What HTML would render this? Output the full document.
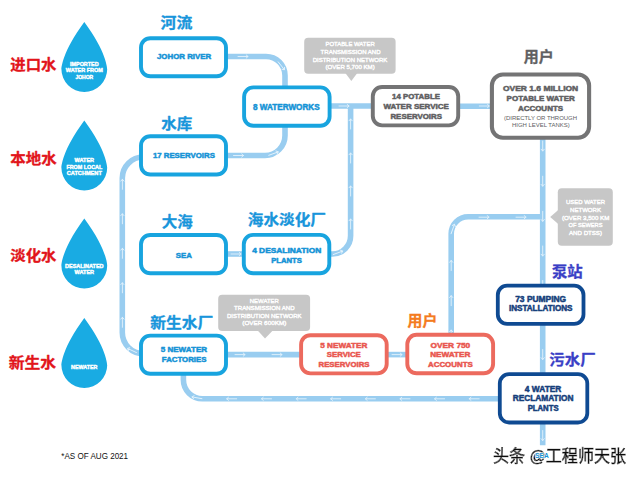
<!DOCTYPE html>
<html lang="zh"><head><meta charset="utf-8"><title>Water loop</title>
<style>
html,body{margin:0;padding:0;background:#fff;}
body{width:640px;height:478px;overflow:hidden;}
svg{display:block;}
text{font-family:"Liberation Sans","Noto Sans CJK SC",sans-serif;}
.b{font-weight:bold;}
.cn{font-family:"Liberation Sans","Noto Sans CJK SC",sans-serif;font-weight:bold;}
.pipe{fill:none;stroke:#99cdf0;stroke-width:5.6;}
.ar{fill:none;stroke:#e3f2fc;stroke-width:0.9;stroke-linecap:round;stroke-linejoin:round;}
</style></head><body>
<svg width="640" height="478" viewBox="0 0 640 478">
<rect width="640" height="478" fill="#fff"/>
<path class="pipe" d="M226 56.5 H266 A19 19 0 0 1 285 75.5 V88"/>
<path class="pipe" d="M226 155.5 H265 A20 20 0 0 0 285 135.5 V125"/>
<path class="pipe" d="M328 106 H373"/>
<path class="pipe" d="M329 254 H332.4 A18.2 18.2 0 0 0 350.6 235.8 V106"/>
<path class="pipe" d="M458 106.2 H492"/>
<path class="pipe" d="M542.7 138 V445.3"/>
<path class="pipe" d="M451.2 336 V233.8 A17 17 0 0 1 468.2 216.8 H542.7"/>
<path class="pipe" d="M226 354.6 H301"/>
<path class="pipe" d="M226 254 H244"/>
<path class="pipe" d="M385 354.6 H408"/>
<path class="pipe" d="M500 398.8 H202.4 A19 19 0 0 1 183.4 379.8 V373"/>
<path class="pipe" d="M143.3 353.6 A21 21 0 0 1 122.3 332.6 V178 A21 21 0 0 1 143.3 157"/>
<g transform="translate(243.0 56.5) rotate(0)"><path class="ar" d="M-5.0 0 H5.0 M3.2 -1.6 L5.0 0 L3.2 1.6"/></g>
<g transform="translate(281.3 65.8) rotate(52)"><path class="ar" d="M-5.0 0 H5.0 M3.2 -1.6 L5.0 0 L3.2 1.6"/></g>
<g transform="translate(238.5 155.5) rotate(0)"><path class="ar" d="M-5.0 0 H5.0 M3.2 -1.6 L5.0 0 L3.2 1.6"/></g>
<g transform="translate(273.5 153.6) rotate(-20)"><path class="ar" d="M-5.0 0 H5.0 M3.2 -1.6 L5.0 0 L3.2 1.6"/></g>
<g transform="translate(344.0 106.0) rotate(0)"><path class="ar" d="M-5.0 0 H5.0 M3.2 -1.6 L5.0 0 L3.2 1.6"/></g>
<g transform="translate(350.6 124.0) rotate(-90)"><path class="ar" d="M-5.0 0 H5.0 M3.2 -1.6 L5.0 0 L3.2 1.6"/></g>
<g transform="translate(350.6 158.0) rotate(-90)"><path class="ar" d="M-5.0 0 H5.0 M3.2 -1.6 L5.0 0 L3.2 1.6"/></g>
<g transform="translate(350.6 191.0) rotate(-90)"><path class="ar" d="M-5.0 0 H5.0 M3.2 -1.6 L5.0 0 L3.2 1.6"/></g>
<g transform="translate(350.6 224.0) rotate(-90)"><path class="ar" d="M-5.0 0 H5.0 M3.2 -1.6 L5.0 0 L3.2 1.6"/></g>
<g transform="translate(338.0 252.8) rotate(-20)"><path class="ar" d="M-5.0 0 H5.0 M3.2 -1.6 L5.0 0 L3.2 1.6"/></g>
<g transform="translate(484.3 106.0) rotate(0)"><path class="ar" d="M-5.0 0 H5.0 M3.2 -1.6 L5.0 0 L3.2 1.6"/></g>
<g transform="translate(542.7 146.0) rotate(90)"><path class="ar" d="M-5.0 0 H5.0 M3.2 -1.6 L5.0 0 L3.2 1.6"/></g>
<g transform="translate(542.7 181.2) rotate(90)"><path class="ar" d="M-5.0 0 H5.0 M3.2 -1.6 L5.0 0 L3.2 1.6"/></g>
<g transform="translate(542.7 216.3) rotate(90)"><path class="ar" d="M-5.0 0 H5.0 M3.2 -1.6 L5.0 0 L3.2 1.6"/></g>
<g transform="translate(542.7 251.0) rotate(90)"><path class="ar" d="M-5.0 0 H5.0 M3.2 -1.6 L5.0 0 L3.2 1.6"/></g>
<g transform="translate(542.7 285.5) rotate(90)"><path class="ar" d="M-5.0 0 H5.0 M3.2 -1.6 L5.0 0 L3.2 1.6"/></g>
<g transform="translate(542.7 354.5) rotate(90)"><path class="ar" d="M-5.0 0 H5.0 M3.2 -1.6 L5.0 0 L3.2 1.6"/></g>
<g transform="translate(542.7 435.5) rotate(90)"><path class="ar" d="M-5.0 0 H5.0 M3.2 -1.6 L5.0 0 L3.2 1.6"/></g>
<g transform="translate(451.2 335.0) rotate(-90)"><path class="ar" d="M-5.0 0 H5.0 M3.2 -1.6 L5.0 0 L3.2 1.6"/></g>
<g transform="translate(451.2 300.7) rotate(-90)"><path class="ar" d="M-5.0 0 H5.0 M3.2 -1.6 L5.0 0 L3.2 1.6"/></g>
<g transform="translate(451.2 265.5) rotate(-90)"><path class="ar" d="M-5.0 0 H5.0 M3.2 -1.6 L5.0 0 L3.2 1.6"/></g>
<g transform="translate(452.8 229.0) rotate(-70)"><path class="ar" d="M-5.0 0 H5.0 M3.2 -1.6 L5.0 0 L3.2 1.6"/></g>
<g transform="translate(484.0 217.2) rotate(0)"><path class="ar" d="M-5.0 0 H5.0 M3.2 -1.6 L5.0 0 L3.2 1.6"/></g>
<g transform="translate(521.0 217.2) rotate(0)"><path class="ar" d="M-5.0 0 H5.0 M3.2 -1.6 L5.0 0 L3.2 1.6"/></g>
<g transform="translate(240.0 354.6) rotate(0)"><path class="ar" d="M-5.0 0 H5.0 M3.2 -1.6 L5.0 0 L3.2 1.6"/></g>
<g transform="translate(277.0 354.6) rotate(0)"><path class="ar" d="M-5.0 0 H5.0 M3.2 -1.6 L5.0 0 L3.2 1.6"/></g>
<g transform="translate(397.0 354.6) rotate(0)"><path class="ar" d="M-5.0 0 H5.0 M3.2 -1.6 L5.0 0 L3.2 1.6"/></g>
<g transform="translate(236.0 254.0) rotate(0)"><path class="ar" d="M-5.0 0 H5.0 M3.2 -1.6 L5.0 0 L3.2 1.6"/></g>
<g transform="translate(197.0 397.8) rotate(190)"><path class="ar" d="M-5.0 0 H5.0 M3.2 -1.6 L5.0 0 L3.2 1.6"/></g>
<g transform="translate(231.7 398.8) rotate(180)"><path class="ar" d="M-5.0 0 H5.0 M3.2 -1.6 L5.0 0 L3.2 1.6"/></g>
<g transform="translate(266.5 398.8) rotate(180)"><path class="ar" d="M-5.0 0 H5.0 M3.2 -1.6 L5.0 0 L3.2 1.6"/></g>
<g transform="translate(301.2 398.8) rotate(180)"><path class="ar" d="M-5.0 0 H5.0 M3.2 -1.6 L5.0 0 L3.2 1.6"/></g>
<g transform="translate(335.7 398.8) rotate(180)"><path class="ar" d="M-5.0 0 H5.0 M3.2 -1.6 L5.0 0 L3.2 1.6"/></g>
<g transform="translate(370.4 398.8) rotate(180)"><path class="ar" d="M-5.0 0 H5.0 M3.2 -1.6 L5.0 0 L3.2 1.6"/></g>
<g transform="translate(405.0 398.8) rotate(180)"><path class="ar" d="M-5.0 0 H5.0 M3.2 -1.6 L5.0 0 L3.2 1.6"/></g>
<g transform="translate(439.6 398.8) rotate(180)"><path class="ar" d="M-5.0 0 H5.0 M3.2 -1.6 L5.0 0 L3.2 1.6"/></g>
<g transform="translate(474.2 398.8) rotate(180)"><path class="ar" d="M-5.0 0 H5.0 M3.2 -1.6 L5.0 0 L3.2 1.6"/></g>
<g transform="translate(132.0 350.5) rotate(205)"><path class="ar" d="M-5.0 0 H5.0 M3.2 -1.6 L5.0 0 L3.2 1.6"/></g>
<g transform="translate(122.4 322.3) rotate(-90)"><path class="ar" d="M-5.0 0 H5.0 M3.2 -1.6 L5.0 0 L3.2 1.6"/></g>
<g transform="translate(122.4 287.8) rotate(-90)"><path class="ar" d="M-5.0 0 H5.0 M3.2 -1.6 L5.0 0 L3.2 1.6"/></g>
<g transform="translate(122.4 253.3) rotate(-90)"><path class="ar" d="M-5.0 0 H5.0 M3.2 -1.6 L5.0 0 L3.2 1.6"/></g>
<g transform="translate(122.4 218.8) rotate(-90)"><path class="ar" d="M-5.0 0 H5.0 M3.2 -1.6 L5.0 0 L3.2 1.6"/></g>
<g transform="translate(122.4 184.3) rotate(-90)"><path class="ar" d="M-5.0 0 H5.0 M3.2 -1.6 L5.0 0 L3.2 1.6"/></g>
<path fill="#19abe3" d="M84.3 21.9 C106.3 51.4 107.2 67.9 107.2 69.0 A22.9 22.9 0 1 1 61.4 69.0 C61.4 67.9 62.3 51.4 84.3 21.9 Z"/>
<path fill="#19abe3" d="M84.3 120.4 C106.3 149.9 107.2 166.4 107.2 167.5 A22.9 22.9 0 1 1 61.4 167.5 C61.4 166.4 62.3 149.9 84.3 120.4 Z"/>
<path fill="#19abe3" d="M84.3 218.4 C106.3 247.9 107.2 264.4 107.2 265.5 A22.9 22.9 0 1 1 61.4 265.5 C61.4 264.4 62.3 247.9 84.3 218.4 Z"/>
<path fill="#19abe3" d="M84.3 317.9 C106.3 347.4 107.2 363.9 107.2 365.0 A22.9 22.9 0 1 1 61.4 365.0 C61.4 363.9 62.3 347.4 84.3 317.9 Z"/>
<text x="84.3" y="65.8" font-size="5.20" fill="#fff" class="b" text-anchor="middle" textLength="28.5" lengthAdjust="spacingAndGlyphs" stroke="#fff" stroke-width="0.4" stroke-linejoin="round">IMPORTED</text>
<text x="84.3" y="72.3" font-size="5.20" fill="#fff" class="b" text-anchor="middle" textLength="37.0" lengthAdjust="spacingAndGlyphs" stroke="#fff" stroke-width="0.4" stroke-linejoin="round">WATER FROM</text>
<text x="84.3" y="78.6" font-size="5.20" fill="#fff" class="b" text-anchor="middle" textLength="17.8" lengthAdjust="spacingAndGlyphs" stroke="#fff" stroke-width="0.4" stroke-linejoin="round">JOHOR</text>
<text x="84.3" y="162.1" font-size="5.20" fill="#fff" class="b" text-anchor="middle" textLength="19.5" lengthAdjust="spacingAndGlyphs" stroke="#fff" stroke-width="0.4" stroke-linejoin="round">WATER</text>
<text x="84.3" y="168.8" font-size="5.20" fill="#fff" class="b" text-anchor="middle" textLength="35.8" lengthAdjust="spacingAndGlyphs" stroke="#fff" stroke-width="0.4" stroke-linejoin="round">FROM LOCAL</text>
<text x="84.3" y="175.2" font-size="5.20" fill="#fff" class="b" text-anchor="middle" textLength="35.0" lengthAdjust="spacingAndGlyphs" stroke="#fff" stroke-width="0.4" stroke-linejoin="round">CATCHMENT</text>
<text x="84.3" y="267.8" font-size="5.20" fill="#fff" class="b" text-anchor="middle" textLength="38.5" lengthAdjust="spacingAndGlyphs" stroke="#fff" stroke-width="0.4" stroke-linejoin="round">DESALINATED</text>
<text x="84.3" y="274.3" font-size="5.20" fill="#fff" class="b" text-anchor="middle" textLength="19.5" lengthAdjust="spacingAndGlyphs" stroke="#fff" stroke-width="0.4" stroke-linejoin="round">WATER</text>
<text x="84.3" y="369.1" font-size="5.20" fill="#fff" class="b" text-anchor="middle" textLength="26.4" lengthAdjust="spacingAndGlyphs" stroke="#fff" stroke-width="0.4" stroke-linejoin="round">NEWATER</text>
<text x="10.3" y="70.2" font-size="14.40" fill="#e2151b" class="cn" text-anchor="start" textLength="46.2" lengthAdjust="spacingAndGlyphs" stroke="#e2151b" stroke-width="0.3" stroke-linejoin="round">进口水</text>
<text x="10.3" y="163.6" font-size="14.40" fill="#e2151b" class="cn" text-anchor="start" textLength="46.4" lengthAdjust="spacingAndGlyphs" stroke="#e2151b" stroke-width="0.3" stroke-linejoin="round">本地水</text>
<text x="10.3" y="260.5" font-size="14.40" fill="#e2151b" class="cn" text-anchor="start" textLength="46.2" lengthAdjust="spacingAndGlyphs" stroke="#e2151b" stroke-width="0.3" stroke-linejoin="round">淡化水</text>
<text x="8.7" y="367.5" font-size="14.40" fill="#e2151b" class="cn" text-anchor="start" textLength="47.4" lengthAdjust="spacingAndGlyphs" stroke="#e2151b" stroke-width="0.3" stroke-linejoin="round">新生水</text>
<rect x="141.0" y="38.2" width="85.0" height="38.1" rx="9.3" fill="#fff" stroke="#18a4df" stroke-width="3.9"/>
<rect x="141.0" y="136.2" width="85.0" height="38.3" rx="9.3" fill="#fff" stroke="#18a4df" stroke-width="3.9"/>
<rect x="141.0" y="235.0" width="85.0" height="38.3" rx="9.3" fill="#fff" stroke="#18a4df" stroke-width="3.9"/>
<rect x="243.8" y="234.9" width="85.5" height="38.4" rx="9.3" fill="#fff" stroke="#18a4df" stroke-width="3.9"/>
<rect x="244.1" y="87.4" width="85.5" height="38.4" rx="9.3" fill="#fff" stroke="#18a4df" stroke-width="3.9"/>
<rect x="372.8" y="87.0" width="85.4" height="38.4" rx="9.3" fill="#fff" stroke="#747475" stroke-width="3.9"/>
<rect x="491.9" y="74.5" width="97.2" height="63.2" rx="11.0" fill="#fff" stroke="#747475" stroke-width="4.1"/>
<rect x="141.0" y="335.6" width="85.0" height="38.2" rx="9.3" fill="#fff" stroke="#18a4df" stroke-width="3.9"/>
<rect x="301.1" y="335.2" width="85.6" height="38.2" rx="9.3" fill="#fff" stroke="#ec6a5e" stroke-width="3.9"/>
<rect x="407.3" y="334.8" width="85.8" height="38.5" rx="9.3" fill="#fff" stroke="#ec6a5e" stroke-width="3.9"/>
<rect x="497.8" y="285.6" width="85.7" height="38.3" rx="9.3" fill="#fff" stroke="#0f4a92" stroke-width="3.8"/>
<rect x="499.8" y="374.1" width="87.5" height="48.4" rx="9.3" fill="#fff" stroke="#0f4a92" stroke-width="3.8"/>
<text x="184.1" y="59.2" font-size="7.68" fill="#1593d6" class="b" text-anchor="middle" textLength="54.2" lengthAdjust="spacingAndGlyphs" stroke="#1593d6" stroke-width="0.50" stroke-linejoin="round">JOHOR RIVER</text>
<text x="286.3" y="109.9" font-size="8.64" fill="#1593d6" class="b" text-anchor="middle" textLength="66.7" lengthAdjust="spacingAndGlyphs" stroke="#1593d6" stroke-width="0.50" stroke-linejoin="round">8 WATERWORKS</text>
<text x="183.9" y="158.3" font-size="7.96" fill="#1593d6" class="b" text-anchor="middle" textLength="62.0" lengthAdjust="spacingAndGlyphs" stroke="#1593d6" stroke-width="0.50" stroke-linejoin="round">17 RESERVOIRS</text>
<text x="183.8" y="257.9" font-size="7.96" fill="#1593d6" class="b" text-anchor="middle" textLength="16.2" lengthAdjust="spacingAndGlyphs" stroke="#1593d6" stroke-width="0.50" stroke-linejoin="round">SEA</text>
<text x="286.7" y="253.2" font-size="7.54" fill="#1593d6" class="b" text-anchor="middle" textLength="69.1" lengthAdjust="spacingAndGlyphs" stroke="#1593d6" stroke-width="0.50" stroke-linejoin="round">4 DESALINATION</text>
<text x="286.5" y="262.6" font-size="7.54" fill="#1593d6" class="b" text-anchor="middle" textLength="30.7" lengthAdjust="spacingAndGlyphs" stroke="#1593d6" stroke-width="0.50" stroke-linejoin="round">PLANTS</text>
<text x="416.0" y="99.4" font-size="7.68" fill="#606062" class="b" text-anchor="middle" textLength="48.0" lengthAdjust="spacingAndGlyphs" stroke="#606062" stroke-width="0.50" stroke-linejoin="round">14 POTABLE</text>
<text x="416.2" y="108.7" font-size="7.68" fill="#606062" class="b" text-anchor="middle" textLength="65.5" lengthAdjust="spacingAndGlyphs" stroke="#606062" stroke-width="0.50" stroke-linejoin="round">WATER SERVICE</text>
<text x="416.2" y="118.5" font-size="7.68" fill="#606062" class="b" text-anchor="middle" textLength="51.5" lengthAdjust="spacingAndGlyphs" stroke="#606062" stroke-width="0.50" stroke-linejoin="round">RESERVOIRS</text>
<text x="540.6" y="91.2" font-size="7.68" fill="#606062" class="b" text-anchor="middle" textLength="75.3" lengthAdjust="spacingAndGlyphs" stroke="#606062" stroke-width="0.50" stroke-linejoin="round">OVER 1.6 MILLION</text>
<text x="540.7" y="100.8" font-size="7.68" fill="#606062" class="b" text-anchor="middle" textLength="68.2" lengthAdjust="spacingAndGlyphs" stroke="#606062" stroke-width="0.50" stroke-linejoin="round">POTABLE WATER</text>
<text x="540.5" y="110.5" font-size="7.68" fill="#606062" class="b" text-anchor="middle" textLength="45.2" lengthAdjust="spacingAndGlyphs" stroke="#606062" stroke-width="0.50" stroke-linejoin="round">ACCOUNTS</text>
<text x="540.5" y="120.0" font-size="5.76" fill="#606062" class="" text-anchor="middle" textLength="73.0" lengthAdjust="spacingAndGlyphs">(DIRECTLY OR THROUGH</text>
<text x="540.8" y="127.4" font-size="5.76" fill="#606062" class="" text-anchor="middle" textLength="57.7" lengthAdjust="spacingAndGlyphs">HIGH LEVEL TANKS)</text>
<text x="183.9" y="352.3" font-size="7.68" fill="#1593d6" class="b" text-anchor="middle" textLength="46.3" lengthAdjust="spacingAndGlyphs" stroke="#1593d6" stroke-width="0.50" stroke-linejoin="round">5 NEWATER</text>
<text x="184.1" y="361.9" font-size="7.68" fill="#1593d6" class="b" text-anchor="middle" textLength="44.6" lengthAdjust="spacingAndGlyphs" stroke="#1593d6" stroke-width="0.50" stroke-linejoin="round">FACTORIES</text>
<text x="343.8" y="347.9" font-size="7.68" fill="#e9574f" class="b" text-anchor="middle" textLength="47.0" lengthAdjust="spacingAndGlyphs" stroke="#e9574f" stroke-width="0.50" stroke-linejoin="round">5 NEWATER</text>
<text x="343.8" y="357.4" font-size="7.68" fill="#e9574f" class="b" text-anchor="middle" textLength="34.0" lengthAdjust="spacingAndGlyphs" stroke="#e9574f" stroke-width="0.50" stroke-linejoin="round">SERVICE</text>
<text x="344.0" y="366.8" font-size="7.68" fill="#e9574f" class="b" text-anchor="middle" textLength="51.0" lengthAdjust="spacingAndGlyphs" stroke="#e9574f" stroke-width="0.50" stroke-linejoin="round">RESERVOIRS</text>
<text x="450.4" y="347.5" font-size="7.68" fill="#e9574f" class="b" text-anchor="middle" textLength="39.7" lengthAdjust="spacingAndGlyphs" stroke="#e9574f" stroke-width="0.50" stroke-linejoin="round">OVER 750</text>
<text x="450.3" y="357.0" font-size="7.68" fill="#e9574f" class="b" text-anchor="middle" textLength="40.2" lengthAdjust="spacingAndGlyphs" stroke="#e9574f" stroke-width="0.50" stroke-linejoin="round">NEWATER</text>
<text x="450.4" y="366.5" font-size="7.68" fill="#e9574f" class="b" text-anchor="middle" textLength="44.9" lengthAdjust="spacingAndGlyphs" stroke="#e9574f" stroke-width="0.50" stroke-linejoin="round">ACCOUNTS</text>
<text x="540.7" y="302.2" font-size="8.23" fill="#163f7c" class="b" text-anchor="middle" textLength="51.0" lengthAdjust="spacingAndGlyphs" stroke="#163f7c" stroke-width="0.50" stroke-linejoin="round">73 PUMPING</text>
<text x="540.7" y="311.2" font-size="8.23" fill="#163f7c" class="b" text-anchor="middle" textLength="63.6" lengthAdjust="spacingAndGlyphs" stroke="#163f7c" stroke-width="0.50" stroke-linejoin="round">INSTALLATIONS</text>
<text x="543.1" y="391.5" font-size="8.23" fill="#163f7c" class="b" text-anchor="middle" textLength="36.5" lengthAdjust="spacingAndGlyphs" stroke="#163f7c" stroke-width="0.50" stroke-linejoin="round">4 WATER</text>
<text x="543.1" y="401.1" font-size="8.23" fill="#163f7c" class="b" text-anchor="middle" textLength="60.8" lengthAdjust="spacingAndGlyphs" stroke="#163f7c" stroke-width="0.50" stroke-linejoin="round">RECLAMATION</text>
<text x="543.1" y="410.5" font-size="8.23" fill="#163f7c" class="b" text-anchor="middle" textLength="30.9" lengthAdjust="spacingAndGlyphs" stroke="#163f7c" stroke-width="0.50" stroke-linejoin="round">PLANTS</text>
<text x="160.5" y="28.2" font-size="14.40" fill="#1895db" class="cn" text-anchor="start" textLength="31.8" lengthAdjust="spacingAndGlyphs" stroke="#1895db" stroke-width="0.3" stroke-linejoin="round">河流</text>
<text x="161.2" y="129.3" font-size="14.40" fill="#1895db" class="cn" text-anchor="start" textLength="31.0" lengthAdjust="spacingAndGlyphs" stroke="#1895db" stroke-width="0.3" stroke-linejoin="round">水库</text>
<text x="161.8" y="227.0" font-size="14.40" fill="#1895db" class="cn" text-anchor="start" textLength="31.0" lengthAdjust="spacingAndGlyphs" stroke="#1895db" stroke-width="0.3" stroke-linejoin="round">大海</text>
<text x="247.8" y="224.5" font-size="14.40" fill="#1895db" class="cn" text-anchor="start" textLength="78.2" lengthAdjust="spacingAndGlyphs" stroke="#1895db" stroke-width="0.3" stroke-linejoin="round">海水淡化厂</text>
<text x="150.3" y="327.6" font-size="14.40" fill="#1895db" class="cn" text-anchor="start" textLength="63.0" lengthAdjust="spacingAndGlyphs" stroke="#1895db" stroke-width="0.3" stroke-linejoin="round">新生水厂</text>
<text x="407.5" y="325.8" font-size="14.40" fill="#f47b20" class="cn" text-anchor="start" textLength="29.8" lengthAdjust="spacingAndGlyphs" stroke="#f47b20" stroke-width="0.3" stroke-linejoin="round">用户</text>
<text x="523.7" y="62.2" font-size="14.40" fill="#606062" class="cn" text-anchor="start" textLength="30.0" lengthAdjust="spacingAndGlyphs" stroke="#606062" stroke-width="0.3" stroke-linejoin="round">用户</text>
<text x="551.9" y="277.2" font-size="14.40" fill="#3a3fc6" class="cn" text-anchor="start" textLength="30.8" lengthAdjust="spacingAndGlyphs" stroke="#3a3fc6" stroke-width="0.3" stroke-linejoin="round">泵站</text>
<text x="549.3" y="364.9" font-size="14.40" fill="#3a3fc6" class="cn" text-anchor="start" textLength="46.3" lengthAdjust="spacingAndGlyphs" stroke="#3a3fc6" stroke-width="0.3" stroke-linejoin="round">污水厂</text>
<rect x="304.2" y="37.8" width="91.4" height="35.9" rx="4" fill="#c7c7c7"/>
<path fill="#c7c7c7" d="M345.3 73 L351.3 81 L357.3 73Z"/>
<rect x="218.2" y="294.8" width="91.9" height="36.2" rx="4" fill="#c7c7c7"/>
<path fill="#c7c7c7" d="M257.7 330.5 L265 338.6 L272.8 330.5Z"/>
<rect x="557.8" y="188.3" width="55.0" height="57.5" rx="4" fill="#c7c7c7"/>
<path fill="#c7c7c7" d="M558.2 210 L550.2 217 L558.2 224Z"/>
<text x="350.1" y="46.3" font-size="6.00" fill="#fff" class="" text-anchor="middle" textLength="49.2" lengthAdjust="spacingAndGlyphs" stroke="#fff" stroke-width="0.38" stroke-linejoin="round">POTABLE WATER</text>
<text x="350.6" y="53.9" font-size="6.00" fill="#fff" class="" text-anchor="middle" textLength="60.0" lengthAdjust="spacingAndGlyphs" stroke="#fff" stroke-width="0.38" stroke-linejoin="round">TRANSMISSION AND</text>
<text x="350.0" y="61.6" font-size="6.00" fill="#fff" class="" text-anchor="middle" textLength="74.6" lengthAdjust="spacingAndGlyphs" stroke="#fff" stroke-width="0.38" stroke-linejoin="round">DISTRIBUTION NETWORK</text>
<text x="350.1" y="69.3" font-size="6.00" fill="#fff" class="" text-anchor="middle" textLength="49.2" lengthAdjust="spacingAndGlyphs" stroke="#fff" stroke-width="0.38" stroke-linejoin="round">(OVER 5,700 KM)</text>
<text x="264.3" y="302.8" font-size="6.00" fill="#fff" class="" text-anchor="middle" textLength="29.0" lengthAdjust="spacingAndGlyphs" stroke="#fff" stroke-width="0.38" stroke-linejoin="round">NEWATER</text>
<text x="264.3" y="310.2" font-size="6.00" fill="#fff" class="" text-anchor="middle" textLength="60.5" lengthAdjust="spacingAndGlyphs" stroke="#fff" stroke-width="0.38" stroke-linejoin="round">TRANSMISSION AND</text>
<text x="264.3" y="317.9" font-size="6.00" fill="#fff" class="" text-anchor="middle" textLength="74.5" lengthAdjust="spacingAndGlyphs" stroke="#fff" stroke-width="0.38" stroke-linejoin="round">DISTRIBUTION NETWORK</text>
<text x="264.3" y="325.4" font-size="6.00" fill="#fff" class="" text-anchor="middle" textLength="44.0" lengthAdjust="spacingAndGlyphs" stroke="#fff" stroke-width="0.38" stroke-linejoin="round">(OVER 600KM)</text>
<text x="585.5" y="203.8" font-size="6.00" fill="#fff" class="" text-anchor="middle" textLength="39.0" lengthAdjust="spacingAndGlyphs" stroke="#fff" stroke-width="0.38" stroke-linejoin="round">USED WATER</text>
<text x="585.5" y="211.6" font-size="6.00" fill="#fff" class="" text-anchor="middle" textLength="31.0" lengthAdjust="spacingAndGlyphs" stroke="#fff" stroke-width="0.38" stroke-linejoin="round">NETWORK</text>
<text x="585.6" y="219.5" font-size="6.00" fill="#fff" class="" text-anchor="middle" textLength="47.4" lengthAdjust="spacingAndGlyphs" stroke="#fff" stroke-width="0.38" stroke-linejoin="round">(OVER 3,500 KM</text>
<text x="585.5" y="226.9" font-size="6.00" fill="#fff" class="" text-anchor="middle" textLength="34.0" lengthAdjust="spacingAndGlyphs" stroke="#fff" stroke-width="0.38" stroke-linejoin="round">OF SEWERS</text>
<text x="585.5" y="234.7" font-size="6.00" fill="#fff" class="" text-anchor="middle" textLength="33.0" lengthAdjust="spacingAndGlyphs" stroke="#fff" stroke-width="0.38" stroke-linejoin="round">AND DTSS)</text>
<text x="61.3" y="459.1" font-size="8.80" fill="#111" class="" text-anchor="start" textLength="66.8" lengthAdjust="spacingAndGlyphs">*AS OF AUG 2021</text>
<defs><filter id="halo" x="-5%" y="-20%" width="110%" height="140%"><feMorphology in="SourceAlpha" operator="dilate" radius="1.2" result="d"/><feGaussianBlur in="d" stdDeviation="0.4" result="db"/><feFlood flood-color="#fff"/><feComposite in2="db" operator="in" result="h"/><feMerge><feMergeNode in="h"/><feMergeNode in="h"/><feMergeNode in="SourceGraphic"/></feMerge></filter></defs>
<text x="493" y="462.4" font-size="16.8" fill="#0a0a0a" stroke="#0a0a0a" stroke-width="0.7" text-anchor="start" textLength="133" lengthAdjust="spacingAndGlyphs" filter="url(#halo)" style="font-weight:400">头条 @工程师天张</text>
<text x="541.9" y="458.0" font-size="6.4" fill="#1593d6" class="b" text-anchor="middle" textLength="13.6" lengthAdjust="spacingAndGlyphs" stroke="#fff" stroke-width="0.9" paint-order="stroke">SEA</text>
</svg></body></html>
